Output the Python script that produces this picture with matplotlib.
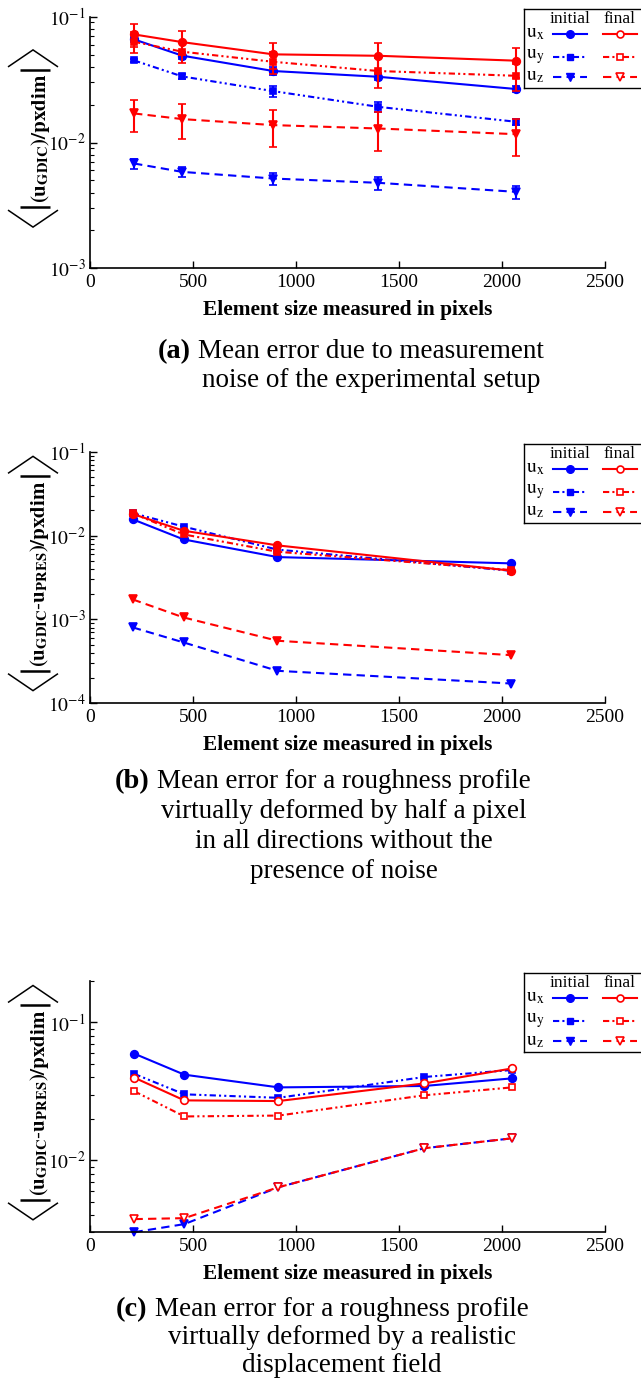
import math
import matplotlib
matplotlib.use('Agg')
import matplotlib.pyplot as plt
from matplotlib.lines import Line2D
from matplotlib.ticker import LogLocator, NullFormatter, FixedLocator

plt.rcParams['font.family'] = ['Liberation Serif', 'DejaVu Serif']
plt.rcParams['mathtext.fontset'] = 'stix'

# ---------------- data ----------------
x_a = [214, 448, 890, 1400, 2070]
a_ux_initial = [0.0660, 0.0490, 0.0370, 0.0333, 0.0266]
a_ux_initial_err = [0.0030, 0.0030, 0.0025, 0.0020, 0.0015]
a_ux_final = [0.0723, 0.0628, 0.0502, 0.0489, 0.0447]
a_ux_final_err = [0.0151, 0.0135, 0.0115, 0.0132, 0.0120]
a_uy_initial = [0.0449, 0.0335, 0.0256, 0.0192, 0.0146]
a_uy_initial_err = [0.0015, 0.0015, 0.0025, 0.0017, 0.0009]
a_uy_final = [0.0632, 0.0527, 0.0438, 0.0370, 0.0339]
a_uy_final_err = [0.0120, 0.0100, 0.0090, 0.0098, 0.0080]
a_uz_initial = [0.00681, 0.00584, 0.00517, 0.00478, 0.00405]
a_uz_initial_err = [0.00060, 0.00055, 0.00055, 0.00055, 0.00050]
a_uz_final = [0.01702, 0.01535, 0.01375, 0.01292, 0.01164]
a_uz_final_err = [0.0048, 0.0047, 0.0045, 0.0044, 0.0038]

x_b = [208, 454, 910, 2046]
b_ux_initial = [0.0156, 0.0090, 0.00554, 0.00466]
b_ux_final = [0.01805, 0.01143, 0.00764, 0.00381]
b_uy_initial = [0.0185, 0.0128, 0.0068, 0.0038]
b_uy_final = [0.0184, 0.01033, 0.00641, 0.00388]
b_uz_initial = [0.000803, 0.000532, 0.000244, 0.000172]
b_uz_final = [0.00173, 0.001056, 0.000557, 0.000375]

x_c = [216, 458, 915, 1622, 2049]
c_ux_initial = [0.0593, 0.0418, 0.0338, 0.0346, 0.0393]
c_ux_final = [0.0397, 0.0272, 0.0269, 0.0361, 0.0464]
c_uy_initial = [0.0423, 0.0301, 0.0284, 0.0402, 0.0452]
c_uy_final = [0.0316, 0.0208, 0.0211, 0.0296, 0.0338]
c_uz_initial = [0.00301, 0.00344, 0.00637, 0.01222, 0.01443]
c_uz_final = [0.00374, 0.00380, 0.00637, 0.01222, 0.01443]

xticks = [0, 500, 1000, 1500, 2000, 2500]
yticks_a = [1e-3, 1e-2, 1e-1]
yticks_b = [1e-4, 1e-3, 1e-2, 1e-1]
yticks_c = [1e-2, 1e-1]
legend_cols = ['initial', 'final']
components = ['x', 'y', 'z']

xlabel_text = 'Element size measured in pixels'
ylabel_a = r'$\mathbf{(u}_{\mathbf{GDIC}}\mathbf{)/pxdim}$'
ylabel_bc = r'$\mathbf{(u}_{\mathbf{GDIC}}\mathbf{\text{-}u}_{\mathbf{PRES}}\mathbf{)/pxdim}$'

cap_a = ['Mean error due to measurement', 'noise of the experimental setup']
cap_b = ['Mean error for a roughness profile', 'virtually deformed by half a pixel',
         'in all directions without the', 'presence of noise']
cap_c = ['Mean error for a roughness profile', 'virtually deformed by a realistic',
         'displacement field']

# ---------------- figure ----------------
W, H = 641, 1387
fig = plt.figure(figsize=(W / 100, H / 100), dpi=100)
renderer = fig.canvas.get_renderer()
BLUE = '#0000ff'
RED = '#ff0000'
LS = {'x': '-', 'y': (0, (3, 1.5, 1, 1.5, 1, 1.5)), 'z': (0, (4, 2.5))}
MK = {'x': 'o', 'y': 's', 'z': 'v'}
MS = {'x': 5.5, 'y': 4.8, 'z': 6.0}


def px_axes(top, bottom, left=90, right=605):
    return fig.add_axes([left / W, 1 - bottom / H, (right - left) / W, (bottom - top) / H])


def series(ax, x, y, comp, color, filled=True, err=None, z=2):
    mfc = color if filled else 'white'
    kw = dict(ls=LS[comp], color=color, lw=1.5, marker=MK[comp], ms=MS[comp],
              mfc=mfc, mec=color, mew=1.2, zorder=z, clip_on=False)
    if err is None:
        ax.plot(x, y, **kw)
    else:
        ax.errorbar(x, y, yerr=err, ecolor=color, elinewidth=1.5, capsize=2.6,
                    capthick=1.5, **kw)


def style(ax, ylim, yticks):
    ax.set_yscale('log')
    ax.set_xlim(0, 2500)
    ax.set_ylim(*ylim)
    ax.spines['top'].set_visible(False)
    ax.spines['right'].set_visible(False)
    for s in ('left', 'bottom'):
        ax.spines[s].set_linewidth(1.2)
    ax.xaxis.set_major_locator(FixedLocator(xticks))
    ax.set_xticklabels([str(t) for t in xticks])
    ax.yaxis.set_major_locator(FixedLocator(yticks))
    ax.set_yticklabels([r'$10^{%d}$' % round(math.log10(t)) for t in yticks])
    ax.yaxis.set_minor_locator(LogLocator(base=10, subs=range(2, 10), numticks=20))
    ax.yaxis.set_minor_formatter(NullFormatter())
    ax.tick_params(axis='both', which='major', direction='in', length=5, width=1.0,
                   labelsize=14, pad=3)
    ax.tick_params(axis='y', which='minor', direction='in', length=3, width=0.8)
    ax.tick_params(axis='x', pad=4)


def fit_size(s, target, weight='normal', base=16):
    t = fig.text(0, 0, s, fontsize=base, fontweight=weight)
    w = t.get_window_extent(renderer).width
    t.remove()
    return base * target / w


def fline(xs, ys, lw):
    # xs in px from left, ys in px from top
    fig.add_artist(Line2D([x / W for x in xs], [1 - y / H for y in ys],
                          transform=fig.transFigure, color='black', lw=lw,
                          solid_capstyle='butt', solid_joinstyle='miter'))


def ylabel(content, cy, cx=40, fs=15):
    t = fig.text(cx / W, 1 - cy / H, content, rotation=90, ha='center', va='center',
                 fontsize=fs)
    bb = t.get_window_extent(renderer)
    top = H - bb.y1
    bot = H - bb.y0
    bx0, bx1, bc = 20, 50, 33
    fline([bx0, bx1], [top - 4, top - 4], 1.8)
    fline([bx0, bx1], [bot + 4, bot + 4], 1.8)
    a_top = top - 7
    fline([8, bc, 58], [a_top, a_top - 17, a_top], 1.1)
    a_bot = bot + 7
    fline([8, bc, 58], [a_bot, a_bot + 17, a_bot], 1.1)


def legend(top):
    h = 79
    lax = fig.add_axes([523.5 / W, 1 - (top + h) / H, 125 / W, h / H])
    lax.set_xlim(0, 125)
    lax.set_ylim(h, 0)
    lax.set_xticks([])
    lax.set_yticks([])
    for s in lax.spines.values():
        s.set_linewidth(1.0)
    lax.text(46.5, 10, legend_cols[0], ha='center', va='center', fontsize=12.5)
    lax.text(96.5, 10, legend_cols[1], ha='center', va='center', fontsize=12.5)
    for comp, yy in zip(components, [25, 48, 68]):
        lax.text(3, yy, r'$\mathrm{u}_{\mathrm{%s}}$' % comp, ha='left', va='center',
                 fontsize=14)
        lax.plot([29.5, 63.5], [yy, yy], ls=LS[comp], color=BLUE, lw=1.5)
        lax.plot([46.5], [yy], ls='none', marker=MK[comp], ms=MS[comp], color=BLUE)
        lax.plot([79.5, 113.5], [yy, yy], ls=LS[comp], color=RED, lw=1.5)
        lax.plot([96.5], [yy], ls='none', marker=MK[comp], ms=MS[comp] - 0.5, mfc='white',
                 mec=RED, mew=1.2)


cap_fs = fit_size(cap_b[0], 374)
xl_fs = fit_size(xlabel_text, 291, weight='bold')


def caption(letter, lines, label_right, text_left, ys):
    fig.text(label_right / W, 1 - ys[0] / H, letter, ha='right', va='center',
             fontsize=cap_fs * 1.05, fontweight='bold')
    t = fig.text(text_left / W, 1 - ys[0] / H, lines[0], ha='left', va='center',
                 fontsize=cap_fs)
    w = t.get_window_extent(renderer).width
    cx = text_left + w / 2
    for s, y in zip(lines[1:], ys[1:]):
        fig.text(cx / W, 1 - y / H, s, ha='center', va='center', fontsize=cap_fs)


def panel(top, bottom, ylim, yticks, x, data, filled_final, errs, ylab, caption_args):
    ax = px_axes(top, bottom)
    style(ax, ylim, yticks)
    for comp in components:
        ei = errs[comp][0] if errs else None
        ef = errs[comp][1] if errs else None
        series(ax, x, data[comp][0], comp, BLUE, True, ei, z=2)
        series(ax, x, data[comp][1], comp, RED, filled_final, ef, z=3)
    fig.text(347.5 / W, 1 - (bottom + 42) / H, xlabel_text, ha='center', va='center',
             fontsize=xl_fs, fontweight='bold')
    ylabel(ylab, (top + bottom) / 2 - 4)
    legend(top - 8)
    caption(*caption_args)
    return ax


panel(16.7, 268.3, (1e-3, 1e-1), yticks_a, x_a,
      {'x': (a_ux_initial, a_ux_final), 'y': (a_uy_initial, a_uy_final),
       'z': (a_uz_initial, a_uz_final)}, True,
      {'x': (a_ux_initial_err, a_ux_final_err), 'y': (a_uy_initial_err, a_uy_final_err),
       'z': (a_uz_initial_err, a_uz_final_err)},
      ylabel_a, ('(a)', cap_a, 191, 198, [352, 381]))

panel(451.7, 703.3, (1e-4, 1e-1), yticks_b, x_b,
      {'x': (b_ux_initial, b_ux_final), 'y': (b_uy_initial, b_uy_final),
       'z': (b_uz_initial, b_uz_final)}, True, None,
      ylabel_bc, ('(b)', cap_b, 150, 157, [782, 812, 842, 872]))

panel(981, 1232.3, (0.003, 0.2), yticks_c, x_c,
      {'x': (c_ux_initial, c_ux_final), 'y': (c_uy_initial, c_uy_final),
       'z': (c_uz_initial, c_uz_final)}, False, None,
      ylabel_bc, ('(c)', cap_c, 147, 155, [1310, 1338, 1366]))

fig.savefig('out.png', dpi=100)
